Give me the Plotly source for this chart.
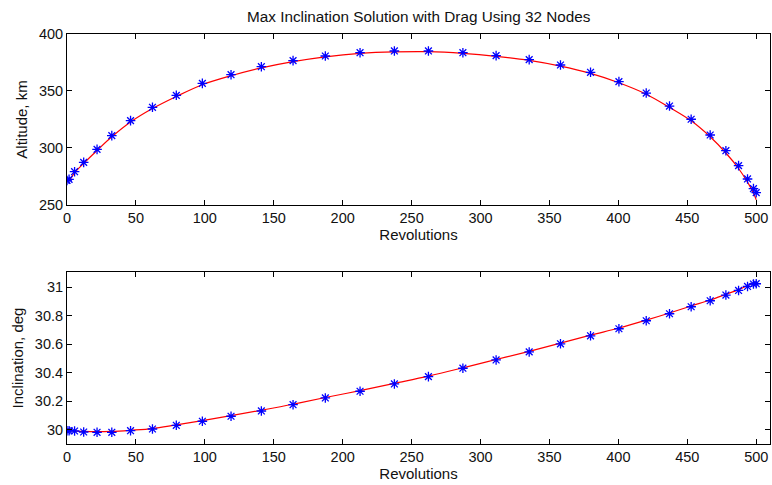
import plotly.graph_objects as go
from plotly.subplots import make_subplots

# Node positions (revolutions)
revs = [0, 1.5, 5.5, 12.1, 21.8, 32.5, 46.1, 62, 79.3, 98.2, 119, 141, 164, 187.4,
        212.6, 237.5, 262.2, 287.2, 311.3, 335.3, 358, 379.8, 400.4, 420.2, 437.1,
        452.8, 466.6, 478, 487.2, 493.7, 498, 500]

# Altitude at nodes (km) - blue asterisks
alt_nodes = [271.5, 272.5, 279.2, 287.4, 298.8, 310.8, 324, 335.7, 346.2, 356.7, 364.3,
             371.3, 376.6, 380.7, 383.6, 385.1, 385.1, 383.6, 381, 377.5, 372.8, 366.4,
             358.2, 348.2, 336.8, 325.2, 311.4, 297.6, 284.5, 272.8, 264.3, 260.8]
# Altitude of propagated solution (red line)
alt_line = [270.5, 271.5, 278.2, 286.5, 297.8, 309.8, 322.8, 334.6, 345.2, 355.5, 363.4,
            370.3, 375.8, 380, 383, 384.3, 384.5, 383, 380.4, 376.8, 371.8, 365.4,
            357.2, 347.2, 335.6, 323.8, 309.8, 295.6, 282, 270, 260.5, 254.5]

# Inclination at nodes (deg) - blue asterisks
inc_nodes = [29.995, 29.995, 29.993, 29.986, 29.984, 29.984, 29.995, 30.007, 30.033, 30.061,
             30.096, 30.133, 30.177, 30.224, 30.271, 30.322, 30.373, 30.432, 30.490, 30.546,
             30.603, 30.659, 30.708, 30.764, 30.813, 30.862, 30.904, 30.944, 30.976, 31.004,
             31.021, 31.023]
# Inclination of propagated solution (red line)
inc_line = [29.995, 29.995, 29.993, 29.99, 29.988, 29.99, 29.998, 30.01, 30.036, 30.065,
            30.1, 30.138, 30.18, 30.227, 30.275, 30.326, 30.377, 30.435, 30.493, 30.55,
            30.607, 30.663, 30.713, 30.768, 30.818, 30.867, 30.909, 30.949, 30.982, 31.01,
            31.027, 31.03]

alt_ticks = [250, 300, 350, 400]
inc_ticks = [30, 30.2, 30.4, 30.6, 30.8, 31]
rev_ticks = [0, 50, 100, 150, 200, 250, 300, 350, 400, 450, 500]

title_text = "Max Inclination Solution with Drag Using 32 Nodes"

fig = make_subplots(rows=2, cols=1, vertical_spacing=0.1)

for row, yl, yn in [(1, alt_line, alt_nodes), (2, inc_line, inc_nodes)]:
    fig.add_trace(go.Scatter(x=revs, y=yl, mode="lines",
                             line=dict(color="#ff0000", width=1.2, shape="spline"),
                             showlegend=False), row=row, col=1)
    fig.add_trace(go.Scatter(x=revs, y=yn, mode="markers",
                             marker=dict(symbol="asterisk-open", size=8, color="#0000ff",
                                         line=dict(color="#0000ff", width=1.3)),
                             showlegend=False), row=row, col=1)

FAM = "Liberation Sans, Arial, sans-serif"
font = dict(family=FAM, size=15, color="#111111")
title_font = dict(family=FAM, size=15.3, color="#111111")
axis_common = dict(showgrid=False, zeroline=False, showline=True, linecolor="black", linewidth=1,
                   mirror="ticks", ticks="inside", ticklen=5, tickcolor="black",
                   tickfont=dict(family=FAM, size=14.5, color="#111111"))

fig.update_xaxes(range=[0, 510], tickvals=rev_ticks, **axis_common)
fig.update_xaxes(title=dict(text="Revolutions", font=font, standoff=1), row=1, col=1)
fig.update_xaxes(title=dict(text="Revolutions", font=font, standoff=1), row=2, col=1)
fig.update_yaxes(range=[250, 400], tickvals=alt_ticks, row=1, col=1, **axis_common)
fig.update_yaxes(title=dict(text="Altitude, km", font=font, standoff=7), row=1, col=1)
fig.update_yaxes(range=[29.902, 31.105], tickvals=inc_ticks, row=2, col=1, **axis_common)
fig.update_yaxes(title=dict(text="Inclination, deg", font=font, standoff=7), row=2, col=1)

fig.update_layout(
    width=772, height=485,
    margin=dict(l=67, r=2, t=34, b=41),
    paper_bgcolor="white", plot_bgcolor="white",
    xaxis=dict(domain=[0, 1]), yaxis=dict(domain=[0.583, 1]),
    xaxis2=dict(domain=[0, 1]), yaxis2=dict(domain=[0, 0.4195]),
    annotations=[dict(text=title_text, xref="paper", yref="paper", x=0.5, y=1 + 17 / 410,
                      xanchor="center", yanchor="middle", showarrow=False, font=title_font)],
)

fig.write_html("out.html")
